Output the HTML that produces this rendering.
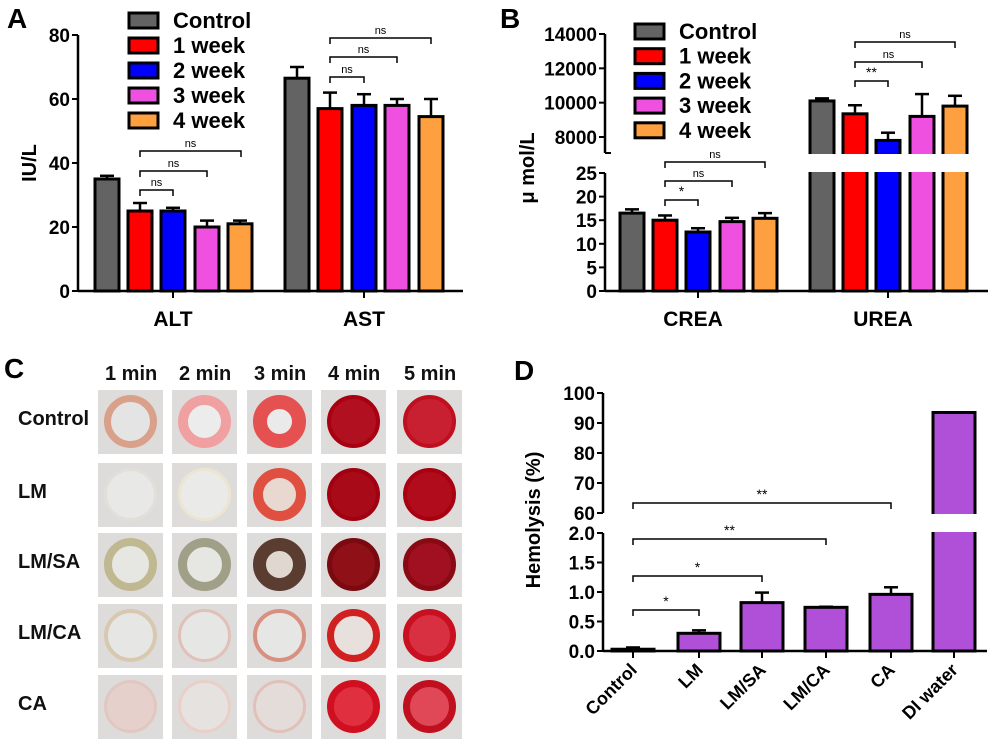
<!DOCTYPE html>
<html><head><meta charset="utf-8"><style>
body{margin:0;background:#fff;width:999px;height:744px;overflow:hidden;position:relative;font-family:"Liberation Sans",Arial,sans-serif}
svg{position:absolute;left:0;top:0}
.cell{position:absolute;width:65px;height:64px;background:#dedcdb;overflow:hidden}
.cell .r{position:absolute;left:6px;top:5px;width:53px;height:53px;border-radius:50%;box-sizing:border-box}
.lbl{position:absolute;font-weight:bold;font-size:20px;color:#111}
</style></head><body>
<svg id="chart" width="999" height="744" font-family="Liberation Sans, Arial, sans-serif" font-weight="bold"></svg>
<div id="grid"></div>
<script>
const NS='http://www.w3.org/2000/svg';
const svg=document.getElementById('chart');
const colors=['#636363','#ff0000','#0000ff','#f050e0','#ffa040'];
const legendLabels=['Control','1 week','2 week','3 week','4 week'];
// Panel A
const aCats=['ALT','AST'];
const aVals=[[35,25,25,20,21],[66.5,57,58,58,54.5]];
const aErr=[[1,2.5,1,2,1],[3.5,5,3.5,2,5.5]];
const aTicks=[0,20,40,60,80];
// Panel B
const bCats=['CREA','UREA'];
const bCrea=[16.5,15,12.5,14.7,15.4];
const bCreaErr=[0.8,1,0.8,0.8,1.1];
const bUrea=[10100,9350,7800,9200,9800];
const bUreaErr=[150,500,450,1300,600];
const bLowTicks=[0,5,10,15,20,25];
const bHighTicks=[8000,10000,12000,14000];
// Panel D
const dCats=['Control','LM','LM/SA','LM/CA','CA','DI water'];
const dVals=[0.03,0.3,0.82,0.74,0.96,93.5];
const dErr=[0.03,0.05,0.17,0.01,0.12,0];
const dLowTicks=['0.0','0.5','1.0','1.5','2.0'];
const dHighTicks=[60,70,80,90,100];

function el(tag,attrs,parent,text){const e=document.createElementNS(NS,tag);for(const k in attrs)e.setAttribute(k,attrs[k]);if(text!==undefined)e.textContent=text;(parent||svg).appendChild(e);return e;}
function line(x1,y1,x2,y2,w){return el('line',{x1,y1,x2,y2,stroke:'#000','stroke-width':w||2});}
function bracket(x1,x2,y,txt,name){const g=el('g',{});
 el('path',{d:`M${x1} ${y+6}V${y}H${x2}V${y+6}`,fill:'none',stroke:'#000','stroke-width':1.5},g);
 el('text',{x:(x1+x2)/2,y:y-4,'text-anchor':'middle','font-size':txt==='ns'?11:14,'font-weight':'normal'},g,txt);}
function bar(x,w,yTop,yBot,color,name){const r=el('rect',{x:x-w/2,y:yTop,width:w,height:yBot-yTop,fill:color,stroke:'#000','stroke-width':3});return r;}
function errbar(x,y0,y1){line(x,y0,x,y1,2.5);line(x-7,y1,x+7,y1,2.5);}
function legend(x,y0,dy){colors.forEach((c,i)=>{const g=el('g',{});
 el('rect',{x:x,y:y0+i*dy-7,width:29,height:15,fill:c,stroke:'#000','stroke-width':3},g);
 el('text',{x:x+44,y:y0+i*dy+8,'font-size':22},g,legendLabels[i]);});}
function ylabel(x,y,t,name){const e=el('text',{x,y,transform:`rotate(-90 ${x} ${y})`,'text-anchor':'middle','font-size':20},svg,t);}
function letter(x,y,t){const e=el('text',{x,y,'font-size':28},svg,t);}

// ---- Panel A
(function(){const ax=78,y0=291,k=256/80;const Y=v=>y0-v*k;
 const centers=[[107,140,173,207,240],[297,330,364,397,431]];
 aVals.forEach((vs,g)=>vs.forEach((v,i)=>{const x=centers[g][i];errbar(x,Y(v),Y(v+aErr[g][i]));bar(x,24,Y(v),y0,colors[i],'bar-a-'+aCats[g]+'-'+i);}));
 line(ax,Y(80),ax,y0+1,2.5);line(ax,y0,463,y0,2.5);
 aTicks.forEach(t=>{line(ax-6,Y(t),ax,Y(t));el('text',{x:ax-8,y:Y(t)+7,'text-anchor':'end','font-size':19},svg,t);});
 aCats.forEach((c,g)=>{line(centers[g][2],y0,centers[g][2],y0+7);el('text',{x:centers[g][2],y:326,'text-anchor':'middle','font-size':21},svg,c);});
 bracket(140,173,190,'ns','sig-alt-1');bracket(140,207,171,'ns','sig-alt-2');bracket(140,241,151,'ns','sig-alt-3');
 bracket(330,364,77,'ns','sig-ast-1');bracket(330,397,57,'ns','sig-ast-2');bracket(330,431,38,'ns','sig-ast-3');
 legend(129,20,25);ylabel(36,163,'IU/L','y-axis-title-a');letter(7,28,'A');})();

// ---- Panel B
(function(){const ax=605,y0=291,k=118/25;const YL=v=>y0-v*k;const kh=103/6000;const YH=v=>137-(v-8000)*kh;
 const centers=[[632,665,698,732,765],[822,855,888,922,955]];
 bCrea.forEach((v,i)=>{const x=centers[0][i];errbar(x,YL(v),YL(v+bCreaErr[i]));bar(x,24,YL(v),y0,colors[i],'bar-crea-'+i);});
 bUrea.forEach((v,i)=>{const x=centers[1][i];errbar(x,YH(v),YH(v+bUreaErr[i]));bar(x,24,YH(v),165,colors[i],'bar-urea-'+i);bar(x,24,166,y0,colors[i],'bar-urea-low-'+i);});
 el('rect',{x:800,y:154,width:180,height:18,fill:'#fff'});
 line(ax,YH(14000),ax,153,2.5);line(ax,YL(25),ax,y0+1,2.5);line(ax,y0,988,y0,2.5);
 line(ax,153,ax+6,153);
 bLowTicks.forEach(t=>{line(ax-6,YL(t),ax,YL(t));el('text',{x:ax-8,y:YL(t)+7,'text-anchor':'end','font-size':19},svg,t);});
 bHighTicks.forEach(t=>{line(ax-6,YH(t),ax,YH(t));el('text',{x:ax-8,y:YH(t)+7,'text-anchor':'end','font-size':19},svg,t);});
 bCats.forEach((c,g)=>{line(centers[g][2],y0,centers[g][2],y0+7);el('text',{x:centers[g][2]-5,y:326,'text-anchor':'middle','font-size':21},svg,c);});
 bracket(665,698,200,'*','sig-crea-1');bracket(665,732,181,'ns','sig-crea-2');bracket(665,765,162,'ns','sig-crea-3');
 bracket(855,888,81,'**','sig-urea-1');bracket(855,922,62,'ns','sig-urea-2');bracket(855,955,42,'ns','sig-urea-3');
 legend(635,31,24.7);ylabel(534,168,'μ mol/L','y-axis-title-b');letter(500,28,'B');})();

// ---- Panel D
(function(){const ax=603,y0=651,k=59;const YL=v=>y0-v*k;const YH=v=>513-(v-60)*3;
 const centers=[633,699,762,826,891,954];const purple='#b04fd8';
 dVals.forEach((v,i)=>{const x=centers[i];
  if(v>2){bar(x,42,YH(v),522,purple,'bar-hemolysis-'+i);bar(x,42,524,y0,purple,'bar-hemolysis-low-'+i);}
  else{if(dErr[i]>0)errbar(x,YL(v),YL(v+dErr[i]));bar(x,42,YL(v),y0,purple,'bar-hemolysis-'+i);}});
 el('rect',{x:925,y:514,width:60,height:18,fill:'#fff'});
 line(ax,YH(100),ax,513,2.5);line(ax,533,ax,y0+1,2.5);line(ax,y0,987,y0,2.5);
 dHighTicks.forEach(t=>{line(ax-6,YH(t),ax,YH(t));el('text',{x:ax-8,y:YH(t)+7,'text-anchor':'end','font-size':19},svg,t);});
 dLowTicks.forEach(t=>{line(ax-6,YL(+t),ax,YL(+t));el('text',{x:ax-8,y:YL(+t)+7,'text-anchor':'end','font-size':19},svg,t);});
 dCats.forEach((c,i)=>{const x=centers[i];line(x,y0,x,y0+7);const t=el('text',{x:x+5,y:y0+20,'text-anchor':'end','font-size':18,transform:`rotate(-45 ${x+5} ${y0+20})`},svg,c);});
 bracket(633,699,610,'*','sig-lm');bracket(633,762,576,'*','sig-lmsa');bracket(633,826,539,'**','sig-lmca');bracket(633,891,503,'**','sig-ca');
 ylabel(540,520,'Hemolysis (%)','y-axis-title-d');letter(514,380,'D');})();

// ---- Panel C photo grid
letter(4,378,'C');
const grid=document.getElementById('grid');
const colX=[98,172,247,321,397];const rowY=[390,463,533,604,675];
const rowLabels=['Control','LM','LM/SA','LM/CA','CA'];const colLabels=['1 min','2 min','3 min','4 min','5 min'];
const looks=[
 [['#d9a08a','#e4e4e4',7],['#f0a0a0','#ececec',10],['#e55050','#eaeaea',14],['#a80010','#b01020',4],['#c01020','#c82030',4]],
 [['#e0e0d8','#e8e8e6',3],['#ece6d0','#eaeae8',3],['#e05040','#e8d8d0',10],['#a00010','#a80a18',4],['#a80010','#b00c1c',4]],
 [['#c0b890','#e6e6e2',8],['#a0a088','#e6e6e2',9],['#5a3c30','#e0d8d0',13],['#7a0a10','#901018',5],['#8a0a14','#a01020',5]],
 [['#d8c8b0','#e6e6e4',4],['#e0c0b8','#e6e6e4',3],['#d89080','#e6e6e4',4],['#d02020','#e8e0dc',7],['#c81020','#d83040',6]],
 [['#e0c8c0','#e6d0cc',3],['#e8d0c8','#e6e2e0',3],['#e0c0b8','#e4dcd8',3],['#d01020','#e03040',7],['#c01020','#e04858',7]]];
rowY.forEach((y,r)=>{
 const l=document.createElement('div');l.className='lbl';l.style.left='18px';l.style.top=(y+18)+'px';l.textContent=rowLabels[r];
 
 grid.appendChild(l);
 colX.forEach((x,c)=>{const d=document.createElement('div');d.className='cell';d.style.left=x+'px';d.style.top=y+'px';
  
  
  const lk=looks[r][c];const ri=document.createElement('div');ri.className='r';ri.style.border=lk[2]+'px solid '+lk[0];ri.style.background=lk[1];
  d.appendChild(ri);grid.appendChild(d);});});
colX.forEach((x,c)=>{const l=document.createElement('div');l.className='lbl';l.style.left=(x+7)+'px';l.style.top='363px';l.textContent=colLabels[c];
 
 grid.appendChild(l);});
</script>
</body></html>
